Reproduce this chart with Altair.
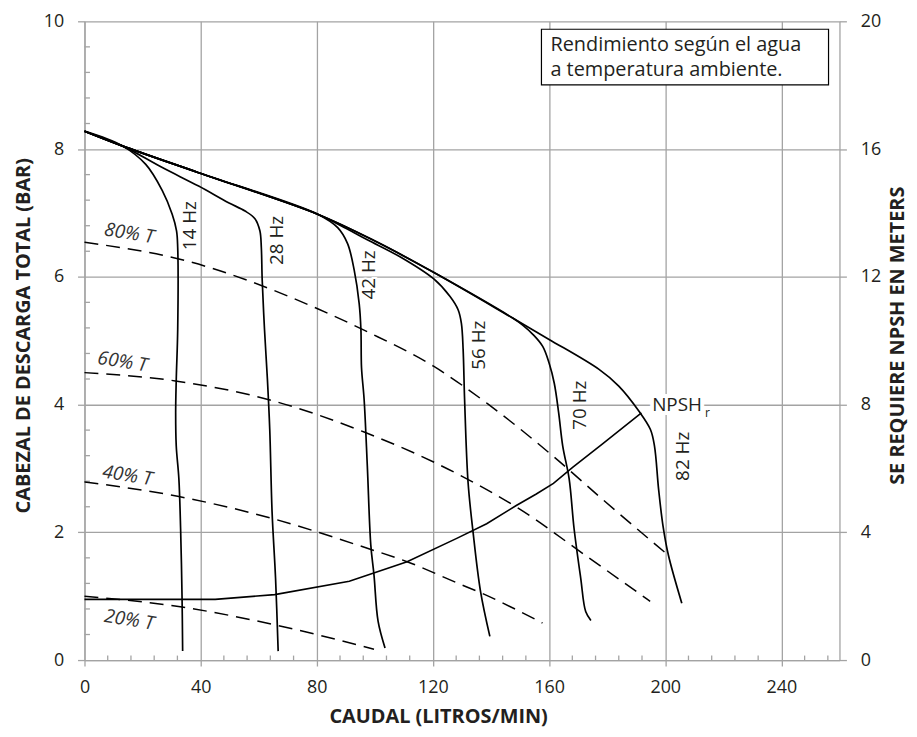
import altair as alt
import pandas as pd

# ---------------- data ----------------
# 82 Hz curve, which is also the common upper envelope of every speed curve
env_q = [0, 13, 39.3, 80.3, 100.9, 120.2, 147.6, 160, 177.2, 184, 190.9, 194.9, 196.3, 197.7, 199.2, 201.1, 205.7]
env_h = [8.28, 8.05, 7.63, 6.98, 6.54, 6.07, 5.35, 5.02, 4.55, 4.29, 3.90, 3.61, 3.35, 2.68, 2.11, 1.64, 0.89]

# own part of each lower speed curve (after it leaves the envelope)
hz14_q = [21.1, 26.8, 30.2, 31.7, 32.1, 32.1, 31.6, 31.4, 31.6, 32.5, 33.1, 33.6, 33.8]
hz14_h = [7.76, 7.35, 6.98, 6.72, 6.46, 5.17, 4.39, 3.87, 3.35, 2.84, 2.06, 0.97, 0.14]
hz28_q = [26.8, 39.3, 49.6, 55.3, 58.7, 60.4, 60.9, 61.2, 62.0, 63.0, 63.8, 64.6, 65.8, 66.7]
hz28_h = [7.71, 7.42, 7.16, 7.03, 6.91, 6.72, 6.46, 5.95, 5.17, 4.39, 3.61, 2.32, 1.28, 0.14]
hz42_q = [87.2, 90.6, 92.9, 94.6, 95.2, 95.4, 96.3, 97.4, 98.6, 99.7, 101.1, 103.5]
hz42_h = [6.77, 6.52, 6.10, 5.58, 5.17, 4.58, 4.08, 3.04, 1.80, 1.33, 0.61, 0.19]
hz56_q = [90.0, 97.4, 108.8, 120.2, 125.9, 128.7, 129.8, 130.4, 130.9, 132.1, 133.8, 136.4, 139.6]
hz56_h = [6.76, 6.58, 6.31, 5.97, 5.69, 5.48, 5.27, 4.86, 4.08, 2.78, 2.01, 1.07, 0.37]
hz70_q = [151.0, 154.4, 157.8, 160.0, 161.8, 163.3, 164.7, 166.9, 168.6, 170.9, 172.6, 174.4]
hz70_h = [5.24, 5.10, 4.91, 4.65, 4.33, 3.87, 3.35, 2.84, 2.06, 1.28, 0.76, 0.62]

speed_names = ["14 Hz", "28 Hz", "42 Hz", "56 Hz", "70 Hz", "82 Hz"]
branch_q = [13, 13, 80.3, 80.3, 147.6, 999]   # last envelope point shared with each curve

# torque (dashed) curves
t80_q = [0, 32.5, 80.3, 97.4, 120.2, 138.9, 161.7, 178.8, 201.6]
t80_h = [6.54, 6.28, 5.50, 5.14, 4.60, 4.01, 3.18, 2.50, 1.62]
t60_q = [0, 31.3, 63.2, 96.3, 128.2, 150.3, 173.1, 194.8]
t60_h = [4.50, 4.37, 4.08, 3.57, 2.92, 2.35, 1.62, 0.92]
t40_q = [0, 32.5, 64.4, 97.4, 111.1, 128.2, 136.6, 157.7]
t40_h = [2.79, 2.56, 2.22, 1.75, 1.54, 1.21, 1.05, 0.58]
t20_q = [0, 33.6, 66.7, 99.7]
t20_h = [1.00, 0.83, 0.54, 0.17]

# NPSHr curve (metres, right axis)
npsh_q = [0, 45, 65.5, 91.2, 111.1, 128.2, 138.5, 148.7, 155.6, 161.5, 168.1, 178.3, 191.8]
npsh_m = [1.90, 1.90, 2.05, 2.47, 3.08, 3.81, 4.27, 4.84, 5.20, 5.53, 6.03, 6.76, 7.74]

# annotation texts and anchors
hz_label_q = [36.4, 66.4, 98.0, 136.0, 170.6, 206.3]
hz_label_h = [6.80, 6.57, 6.03, 4.93, 3.99, 3.19]
pct_labels = ["80% T", "60% T", "40% T", "20% T"]
pct_label_q = [15.4, 13.1, 14.8, 15.4]
pct_label_h = [6.68, 4.67, 2.89, 0.63]
npsh_label = ["NPSH"]
npsh_label_q = [195.5]
npsh_label_h = [4.0]
npsh_sub = ["r"]
npsh_sub_q = [213.7]
npsh_sub_h = [3.86]
note_lines = ["Rendimiento según el agua", "a temperatura ambiente."]

x_ticks = [0, 40, 80, 120, 160, 200, 240]
y_ticks = [0, 2, 4, 6, 8, 10]
y2_ticks = [0, 4, 8, 12, 16, 20]

# ---------------- tables ----------------
own = [(hz14_q, hz14_h), (hz28_q, hz28_h), (hz42_q, hz42_h),
       (hz56_q, hz56_h), (hz70_q, hz70_h), ([], [])]
rows = []
for name, bq, (oq, oh) in zip(speed_names, branch_q, own):
    pts = [(q, h) for q, h in zip(env_q, env_h) if q <= bq] + list(zip(oq, oh))
    for i, (q, h) in enumerate(pts):
        rows.append({"curve": name, "i": i, "q": q, "h": h})
speed_df = pd.DataFrame(rows)

rows = []
for name, qs, hs in [("80", t80_q, t80_h), ("60", t60_q, t60_h),
                     ("40", t40_q, t40_h), ("20", t20_q, t20_h)]:
    for i, (q, h) in enumerate(zip(qs, hs)):
        rows.append({"curve": name, "i": i, "q": q, "h": h})
torque_df = pd.DataFrame(rows)

npsh_df = pd.DataFrame({"i": range(len(npsh_q)), "q": npsh_q, "m": npsh_m})
hz_lab_df = pd.DataFrame({"label": speed_names, "q": hz_label_q, "h": hz_label_h})
pct_lab_df = pd.DataFrame({"label": pct_labels, "q": pct_label_q, "h": pct_label_h})
npsh_lab_df = pd.DataFrame({"label": npsh_label, "q": npsh_label_q, "h": npsh_label_h})
npsh_sub_df = pd.DataFrame({"label": npsh_sub, "q": npsh_sub_q, "h": npsh_sub_h})
minor_x_df = pd.DataFrame({"q": [v for v in range(8, 260, 8) if v % 40]})
minor_y_df = pd.DataFrame({"h": [round(0.4 * i, 1) for i in range(1, 25) if i % 5]})
one_df = pd.DataFrame({"k": [0]})

# ---------------- styling ----------------
FONT = "Open Sans"
INK = "#231f20"
GRID = "#a3a3a3"

x_axis = alt.Axis(values=x_ticks, title="CAUDAL (LITROS/MIN)", grid=True,
                  gridColor=GRID, gridWidth=1.3, domainColor=GRID, domainWidth=1.3,
                  tickColor=GRID, tickWidth=1.3, tickSize=6,
                  labelFont=FONT, labelFontSize=18, labelColor=INK, labelPadding=13,
                  labelFlush=False, labelOverlap=False,
                  titleFont=FONT, titleFontSize=20, titleFontWeight="bold", titleColor=INK,
                  titleX=356, titleY=63, titleAlign="center", titleBaseline="alphabetic")
y_axis = alt.Axis(values=y_ticks, title="CABEZAL DE DESCARGA TOTAL (BAR)", grid=True,
                  gridColor=GRID, gridWidth=1.3, domainColor=GRID, domainWidth=1.3,
                  tickColor=GRID, tickWidth=1.3, tickSize=7,
                  labelFont=FONT, labelFontSize=18, labelColor=INK, labelPadding=14,
                  labelFlush=False, labelOverlap=False,
                  titleFont=FONT, titleFontSize=20, titleFontWeight="bold", titleColor=INK,
                  titleAngle=270, titleX=-61.5, titleY=316, titleAlign="center",
                  titleBaseline="middle")
y2_axis = alt.Axis(values=y2_ticks, orient="right", title="SE REQUIERE NPSH EN METERS",
                   grid=False, domainColor=GRID, domainWidth=1.3,
                   tickColor=GRID, tickWidth=1.3, tickSize=7,
                   labelFont=FONT, labelFontSize=18, labelColor=INK, labelPadding=14,
                   labelFlush=False, labelOverlap=False,
                   titleFont=FONT, titleFontSize=20, titleFontWeight="bold", titleColor=INK,
                   titleAngle=270, titleX=58, titleY=316, titleAlign="center",
                   titleBaseline="middle")

X = alt.X("q:Q", scale=alt.Scale(domain=[0, 260], nice=False, zero=False), axis=x_axis)
Y = alt.Y("h:Q", scale=alt.Scale(domain=[0, 10], nice=False, zero=False), axis=y_axis)

minor_x = alt.Chart(minor_x_df).mark_rule(color=GRID, strokeWidth=1.3).encode(
    x=X, y=alt.value(643), y2=alt.value(638.5))
minor_y = alt.Chart(minor_y_df).mark_rule(color=GRID, strokeWidth=1.3).encode(
    y=Y, x=alt.value(0), x2=alt.value(5.5))

torque = alt.Chart(torque_df).mark_line(color="black", strokeWidth=1.5,
                                        strokeDash=[14, 8], interpolate="monotone").encode(
    x=X, y=Y, detail="curve:N", order="i:Q")
speed = alt.Chart(speed_df).mark_line(color="black", strokeWidth=1.7,
                                      interpolate="catmull-rom").encode(
    x=X, y=Y, detail="curve:N", order="i:Q")

hz_halo = alt.Chart(hz_lab_df).mark_text(angle=270, font=FONT, fontSize=19, color="white",
                                         stroke="white", strokeWidth=4,
                                         align="center", baseline="middle").encode(
    x=X, y=Y, text="label:N")
hz_text = alt.Chart(hz_lab_df).mark_text(angle=270, font=FONT, fontSize=19, color=INK,
                                         align="center", baseline="middle").encode(
    x=X, y=Y, text="label:N")
pct_text = alt.Chart(pct_lab_df).mark_text(angle=9, font=FONT, fontSize=19, fontStyle="italic",
                                           color="#333333", align="center",
                                           baseline="middle").encode(
    x=X, y=Y, text="label:N")
npsh_halo = alt.Chart(npsh_lab_df).mark_text(font=FONT, fontSize=19, color="white",
                                             stroke="white", strokeWidth=8,
                                             align="left", baseline="middle").encode(
    x=X, y=Y, text="label:N")
npsh_text = alt.Chart(npsh_lab_df).mark_text(font=FONT, fontSize=19, color=INK,
                                             align="left", baseline="middle").encode(
    x=X, y=Y, text="label:N")
npsh_sub_text = alt.Chart(npsh_sub_df).mark_text(font=FONT, fontSize=12, color=INK,
                                                 align="left", baseline="middle").encode(
    x=X, y=Y, text="label:N")

note_box = alt.Chart(one_df).mark_rect(fill="white", stroke="black", strokeWidth=1.2).encode(
    x=alt.value(460), x2=alt.value(749), y=alt.value(8), y2=alt.value(64))
note_text = alt.Chart(one_df).mark_text(text=note_lines, font=FONT, fontSize=20, color=INK,
                                        align="left", baseline="middle", lineHeight=25).encode(
    x=alt.value(469), y=alt.value(24))

left = alt.layer(minor_x, minor_y, torque, speed, hz_halo, hz_text, pct_text,
                 npsh_halo, npsh_text, npsh_sub_text, note_box, note_text)

npsh = alt.Chart(npsh_df).mark_line(color="black", strokeWidth=1.6).encode(
    x=X,
    y=alt.Y("m:Q", scale=alt.Scale(domain=[0, 20], nice=False, zero=False), axis=y2_axis),
    order="i:Q")

chart = alt.layer(left, npsh).resolve_scale(y="independent").properties(
    width=760, height=643,
    autosize=alt.AutoSizeParams(type="none"),
    padding={"left": 77, "top": 11, "right": 70, "bottom": 67},
    background="white",
).configure_view(stroke=None)

chart.save("out.html", embed_options={"renderer": "svg", "actions": False})
